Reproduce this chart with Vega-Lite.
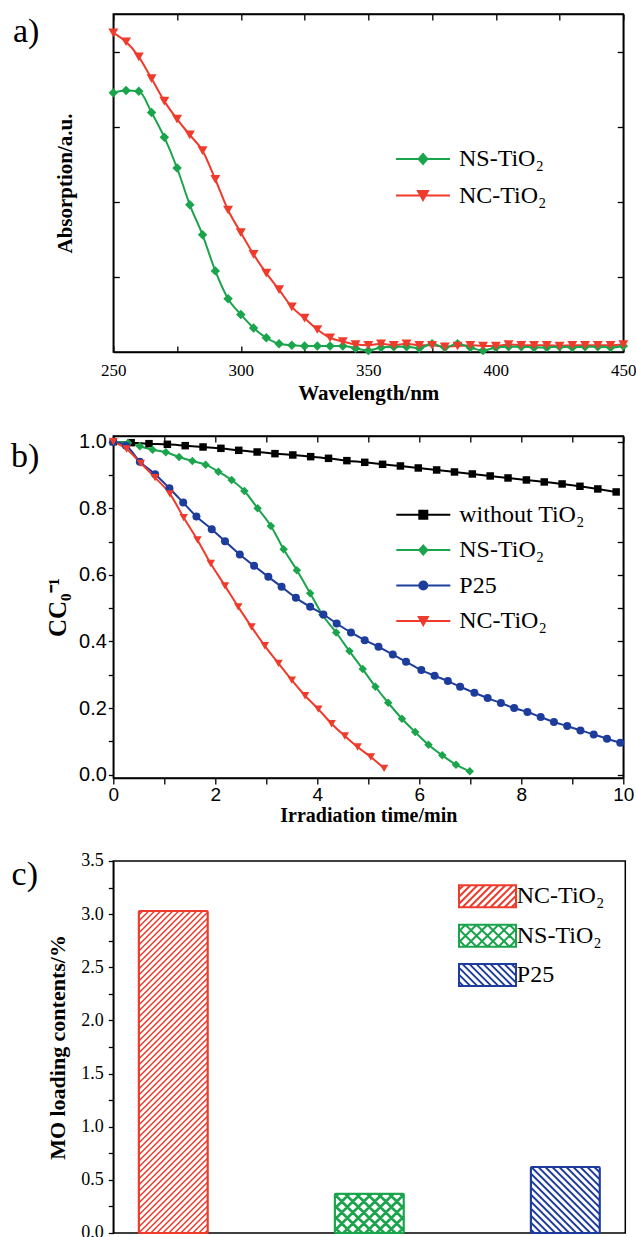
{
  "$schema": "https://vega.github.io/schema/vega-lite/v6.json",
  "padding": {"left": 9.3, "top": 12, "right": 0, "bottom": 0},
  "background": "white",
  "spacing": 25,
  "resolve": {"scale": {"color": "independent", "stroke": "independent", "shape": "independent", "x": "independent", "y": "independent"}, "legend": {"color": "independent", "stroke": "independent", "shape": "independent"}},
  "config": {
    "style": {"guide-label": {"font": "Liberation Serif"}, "guide-title": {"font": "Liberation Serif"}},
    "view": {"stroke": "#000000", "strokeWidth": 1.5},
    "axis": {"grid": false, "domainColor": "#000000", "domainWidth": 1.5, "tickColor": "#000000", "tickWidth": 1.3, "labelColor": "#000000", "titleColor": "#000000", "labelFont": "Liberation Serif", "titleFont": "Liberation Serif", "titleFontWeight": "bold", "labelFlush": false, "labelOverlap": false},
    "legend": {"labelFont": "Liberation Serif", "labelColor": "#000000", "labelFontSize": 24, "padding": 0, "symbolSize": 4, "symbolStrokeWidth": 2, "labelLimit": 300},
    "title": {"font": "Liberation Serif", "fontSize": 34, "fontWeight": "normal", "color": "#000000", "anchor": "start", "frame": "group", "offset": 0}
  },
  "datasets": {
    "abs": [
      {"wl":250,"a":4.25,"s":"NC-TiO₂"},{"wl":255,"a":4.13,"s":"NC-TiO₂"},{"wl":260,"a":3.93,"s":"NC-TiO₂"},{"wl":265,"a":3.64,"s":"NC-TiO₂"},{"wl":270,"a":3.34,"s":"NC-TiO₂"},{"wl":275,"a":3.10,"s":"NC-TiO₂"},{"wl":280,"a":2.89,"s":"NC-TiO₂"},{"wl":285,"a":2.68,"s":"NC-TiO₂"},{"wl":290,"a":2.30,"s":"NC-TiO₂"},{"wl":295,"a":1.89,"s":"NC-TiO₂"},{"wl":300,"a":1.59,"s":"NC-TiO₂"},{"wl":305,"a":1.30,"s":"NC-TiO₂"},{"wl":310,"a":1.05,"s":"NC-TiO₂"},{"wl":315,"a":0.83,"s":"NC-TiO₂"},{"wl":320,"a":0.60,"s":"NC-TiO₂"},{"wl":325,"a":0.45,"s":"NC-TiO₂"},{"wl":330,"a":0.30,"s":"NC-TiO₂"},{"wl":335,"a":0.19,"s":"NC-TiO₂"},{"wl":340,"a":0.14,"s":"NC-TiO₂"},{"wl":345,"a":0.10,"s":"NC-TiO₂"},{"wl":350,"a":0.09,"s":"NC-TiO₂"},{"wl":355,"a":0.11,"s":"NC-TiO₂"},{"wl":360,"a":0.09,"s":"NC-TiO₂"},{"wl":365,"a":0.11,"s":"NC-TiO₂"},{"wl":370,"a":0.09,"s":"NC-TiO₂"},{"wl":375,"a":0.09,"s":"NC-TiO₂"},{"wl":380,"a":0.07,"s":"NC-TiO₂"},{"wl":385,"a":0.08,"s":"NC-TiO₂"},{"wl":390,"a":0.09,"s":"NC-TiO₂"},{"wl":395,"a":0.08,"s":"NC-TiO₂"},{"wl":400,"a":0.08,"s":"NC-TiO₂"},{"wl":405,"a":0.10,"s":"NC-TiO₂"},{"wl":410,"a":0.09,"s":"NC-TiO₂"},{"wl":415,"a":0.09,"s":"NC-TiO₂"},{"wl":420,"a":0.09,"s":"NC-TiO₂"},{"wl":425,"a":0.08,"s":"NC-TiO₂"},{"wl":430,"a":0.09,"s":"NC-TiO₂"},{"wl":435,"a":0.09,"s":"NC-TiO₂"},{"wl":440,"a":0.09,"s":"NC-TiO₂"},{"wl":445,"a":0.09,"s":"NC-TiO₂"},{"wl":450,"a":0.10,"s":"NC-TiO₂"},
      {"wl":250,"a":3.45,"s":"NS-TiO₂"},{"wl":255,"a":3.48,"s":"NS-TiO₂"},{"wl":260,"a":3.47,"s":"NS-TiO₂"},{"wl":265,"a":3.19,"s":"NS-TiO₂"},{"wl":270,"a":2.86,"s":"NS-TiO₂"},{"wl":275,"a":2.45,"s":"NS-TiO₂"},{"wl":280,"a":1.96,"s":"NS-TiO₂"},{"wl":285,"a":1.56,"s":"NS-TiO₂"},{"wl":290,"a":1.08,"s":"NS-TiO₂"},{"wl":295,"a":0.71,"s":"NS-TiO₂"},{"wl":300,"a":0.50,"s":"NS-TiO₂"},{"wl":305,"a":0.32,"s":"NS-TiO₂"},{"wl":310,"a":0.19,"s":"NS-TiO₂"},{"wl":315,"a":0.11,"s":"NS-TiO₂"},{"wl":320,"a":0.09,"s":"NS-TiO₂"},{"wl":325,"a":0.08,"s":"NS-TiO₂"},{"wl":330,"a":0.08,"s":"NS-TiO₂"},{"wl":335,"a":0.08,"s":"NS-TiO₂"},{"wl":340,"a":0.08,"s":"NS-TiO₂"},{"wl":345,"a":0.05,"s":"NS-TiO₂"},{"wl":350,"a":0.02,"s":"NS-TiO₂"},{"wl":355,"a":0.06,"s":"NS-TiO₂"},{"wl":360,"a":0.07,"s":"NS-TiO₂"},{"wl":365,"a":0.07,"s":"NS-TiO₂"},{"wl":370,"a":0.05,"s":"NS-TiO₂"},{"wl":375,"a":0.11,"s":"NS-TiO₂"},{"wl":380,"a":0.06,"s":"NS-TiO₂"},{"wl":385,"a":0.11,"s":"NS-TiO₂"},{"wl":390,"a":0.06,"s":"NS-TiO₂"},{"wl":395,"a":0.02,"s":"NS-TiO₂"},{"wl":400,"a":0.06,"s":"NS-TiO₂"},{"wl":405,"a":0.07,"s":"NS-TiO₂"},{"wl":410,"a":0.07,"s":"NS-TiO₂"},{"wl":415,"a":0.06,"s":"NS-TiO₂"},{"wl":420,"a":0.06,"s":"NS-TiO₂"},{"wl":425,"a":0.07,"s":"NS-TiO₂"},{"wl":430,"a":0.06,"s":"NS-TiO₂"},{"wl":435,"a":0.07,"s":"NS-TiO₂"},{"wl":440,"a":0.07,"s":"NS-TiO₂"},{"wl":445,"a":0.06,"s":"NS-TiO₂"},{"wl":450,"a":0.08,"s":"NS-TiO₂"}
    ],
    "deg": [
      {"t":0,"c":1.0,"s":"without TiO₂"},{"t":0.35,"c":0.997,"s":"without TiO₂"},{"t":0.70,"c":0.994,"s":"without TiO₂"},{"t":1.06,"c":0.992,"s":"without TiO₂"},{"t":1.41,"c":0.988,"s":"without TiO₂"},{"t":1.76,"c":0.984,"s":"without TiO₂"},{"t":2.11,"c":0.980,"s":"without TiO₂"},{"t":2.46,"c":0.974,"s":"without TiO₂"},{"t":2.82,"c":0.969,"s":"without TiO₂"},{"t":3.17,"c":0.964,"s":"without TiO₂"},{"t":3.52,"c":0.960,"s":"without TiO₂"},{"t":3.87,"c":0.955,"s":"without TiO₂"},{"t":4.22,"c":0.950,"s":"without TiO₂"},{"t":4.58,"c":0.943,"s":"without TiO₂"},{"t":4.93,"c":0.938,"s":"without TiO₂"},{"t":5.28,"c":0.932,"s":"without TiO₂"},{"t":5.63,"c":0.927,"s":"without TiO₂"},{"t":5.98,"c":0.921,"s":"without TiO₂"},{"t":6.34,"c":0.915,"s":"without TiO₂"},{"t":6.69,"c":0.909,"s":"without TiO₂"},{"t":7.04,"c":0.903,"s":"without TiO₂"},{"t":7.39,"c":0.897,"s":"without TiO₂"},{"t":7.74,"c":0.891,"s":"without TiO₂"},{"t":8.10,"c":0.885,"s":"without TiO₂"},{"t":8.45,"c":0.879,"s":"without TiO₂"},{"t":8.80,"c":0.873,"s":"without TiO₂"},{"t":9.15,"c":0.866,"s":"without TiO₂"},{"t":9.50,"c":0.858,"s":"without TiO₂"},{"t":9.86,"c":0.849,"s":"without TiO₂"},
      {"t":0,"c":1.0,"s":"NS-TiO₂"},{"t":0.29,"c":0.996,"s":"NS-TiO₂"},{"t":0.52,"c":0.986,"s":"NS-TiO₂"},{"t":0.77,"c":0.976,"s":"NS-TiO₂"},{"t":1.03,"c":0.968,"s":"NS-TiO₂"},{"t":1.29,"c":0.954,"s":"NS-TiO₂"},{"t":1.55,"c":0.942,"s":"NS-TiO₂"},{"t":1.81,"c":0.931,"s":"NS-TiO₂"},{"t":2.06,"c":0.910,"s":"NS-TiO₂"},{"t":2.32,"c":0.885,"s":"NS-TiO₂"},{"t":2.57,"c":0.852,"s":"NS-TiO₂"},{"t":2.83,"c":0.800,"s":"NS-TiO₂"},{"t":3.09,"c":0.747,"s":"NS-TiO₂"},{"t":3.34,"c":0.677,"s":"NS-TiO₂"},{"t":3.60,"c":0.614,"s":"NS-TiO₂"},{"t":3.86,"c":0.545,"s":"NS-TiO₂"},{"t":4.10,"c":0.480,"s":"NS-TiO₂"},{"t":4.37,"c":0.427,"s":"NS-TiO₂"},{"t":4.63,"c":0.371,"s":"NS-TiO₂"},{"t":4.89,"c":0.317,"s":"NS-TiO₂"},{"t":5.14,"c":0.264,"s":"NS-TiO₂"},{"t":5.39,"c":0.216,"s":"NS-TiO₂"},{"t":5.66,"c":0.168,"s":"NS-TiO₂"},{"t":5.92,"c":0.128,"s":"NS-TiO₂"},{"t":6.18,"c":0.090,"s":"NS-TiO₂"},{"t":6.45,"c":0.058,"s":"NS-TiO₂"},{"t":6.72,"c":0.030,"s":"NS-TiO₂"},{"t":6.99,"c":0.010,"s":"NS-TiO₂"},
      {"t":0,"c":1.0,"s":"P25"},{"t":0.25,"c":0.988,"s":"P25"},{"t":0.52,"c":0.940,"s":"P25"},{"t":0.82,"c":0.902,"s":"P25"},{"t":1.10,"c":0.860,"s":"P25"},{"t":1.37,"c":0.817,"s":"P25"},{"t":1.63,"c":0.775,"s":"P25"},{"t":1.93,"c":0.737,"s":"P25"},{"t":2.19,"c":0.701,"s":"P25"},{"t":2.48,"c":0.661,"s":"P25"},{"t":2.76,"c":0.627,"s":"P25"},{"t":3.04,"c":0.594,"s":"P25"},{"t":3.30,"c":0.564,"s":"P25"},{"t":3.58,"c":0.531,"s":"P25"},{"t":3.86,"c":0.504,"s":"P25"},{"t":4.12,"c":0.481,"s":"P25"},{"t":4.38,"c":0.454,"s":"P25"},{"t":4.66,"c":0.427,"s":"P25"},{"t":4.93,"c":0.404,"s":"P25"},{"t":5.20,"c":0.384,"s":"P25"},{"t":5.48,"c":0.361,"s":"P25"},{"t":5.74,"c":0.339,"s":"P25"},{"t":6.04,"c":0.314,"s":"P25"},{"t":6.30,"c":0.297,"s":"P25"},{"t":6.56,"c":0.281,"s":"P25"},{"t":6.80,"c":0.264,"s":"P25"},{"t":7.08,"c":0.246,"s":"P25"},{"t":7.34,"c":0.230,"s":"P25"},{"t":7.60,"c":0.215,"s":"P25"},{"t":7.86,"c":0.200,"s":"P25"},{"t":8.12,"c":0.188,"s":"P25"},{"t":8.38,"c":0.173,"s":"P25"},{"t":8.64,"c":0.158,"s":"P25"},{"t":8.90,"c":0.146,"s":"P25"},{"t":9.16,"c":0.133,"s":"P25"},{"t":9.42,"c":0.121,"s":"P25"},{"t":9.68,"c":0.108,"s":"P25"},{"t":9.94,"c":0.096,"s":"P25"},
      {"t":0,"c":1.0,"s":"NC-TiO₂"},{"t":0.26,"c":0.978,"s":"NC-TiO₂"},{"t":0.54,"c":0.935,"s":"NC-TiO₂"},{"t":0.82,"c":0.892,"s":"NC-TiO₂"},{"t":1.11,"c":0.843,"s":"NC-TiO₂"},{"t":1.38,"c":0.772,"s":"NC-TiO₂"},{"t":1.65,"c":0.705,"s":"NC-TiO₂"},{"t":1.91,"c":0.634,"s":"NC-TiO₂"},{"t":2.19,"c":0.567,"s":"NC-TiO₂"},{"t":2.45,"c":0.504,"s":"NC-TiO₂"},{"t":2.71,"c":0.444,"s":"NC-TiO₂"},{"t":2.97,"c":0.387,"s":"NC-TiO₂"},{"t":3.24,"c":0.334,"s":"NC-TiO₂"},{"t":3.50,"c":0.284,"s":"NC-TiO₂"},{"t":3.76,"c":0.237,"s":"NC-TiO₂"},{"t":4.02,"c":0.197,"s":"NC-TiO₂"},{"t":4.28,"c":0.153,"s":"NC-TiO₂"},{"t":4.54,"c":0.116,"s":"NC-TiO₂"},{"t":4.79,"c":0.083,"s":"NC-TiO₂"},{"t":5.05,"c":0.053,"s":"NC-TiO₂"},{"t":5.31,"c":0.019,"s":"NC-TiO₂"}
    ],
    "load": [
      {"name":"NC-TiO₂","value":3.03},
      {"name":"NS-TiO₂","value":0.37},
      {"name":"P25","value":0.62}
    ]
  },
  "vconcat": [
    {
      "width": 510,
      "height": 338,
      "title": {"text": "a)", "dx": -100.3, "dy": 40},
      "data": {"name": "abs"},
      "layer": [
        {
          "mark": {"type": "line", "strokeWidth": 2, "interpolate": "monotone"},
          "encoding": {
            "x": {"field": "wl", "type": "quantitative", "title": "Wavelength/nm", "scale": {"domain": [250, 450], "nice": false, "zero": false},
                  "axis": {"orient": "bottom", "values": [250,275,300,325,350,375,400,425,450], "labelExpr": "datum.value % 50 === 0 ? datum.label : ''", "tickSize": -6, "labelPadding": 16, "labelFont": "Liberation Serif", "labelFontSize": 17, "titleFontSize": 21, "titlePadding": 4.5}},
            "y": {"field": "a", "type": "quantitative", "title": "Absorption/a.u.", "scale": {"domain": [0, 4.5], "nice": false},
                  "axis": {"orient": "left", "values": [1,2,3,4], "labels": false, "tickSize": -6, "titleFontSize": 21, "titlePadding": 38, "minExtent": 0, "maxExtent": 0}},
            "color": {"field": "s", "type": "nominal", "scale": {"domain": ["NS-TiO₂","NC-TiO₂"], "range": ["#1aa44c","#ef3b2c"]}}
          }
        },
        {
          "transform": [{"filter": "datum.s === 'NS-TiO₂'"}],
          "mark": {"type": "point", "shape": "diamond", "filled": true, "opacity": 1, "size": 90},
          "encoding": {
            "x": {"field": "wl", "type": "quantitative", "axis": {"orient": "top", "values": [250,275,300,325,350,375,400,425,450], "labels": false, "tickSize": -6, "title": null}},
            "y": {"field": "a", "type": "quantitative", "axis": {"orient": "right", "values": [1,2,3,4], "labels": false, "tickSize": -6, "title": null, "minExtent": 0}},
            "color": {"field": "s", "type": "nominal"}
          }
        },
        {
          "transform": [{"filter": "datum.s === 'NC-TiO₂'"}],
          "mark": {"type": "point", "shape": "triangle-down", "filled": true, "opacity": 1, "size": 100},
          "encoding": {
            "x": {"field": "wl", "type": "quantitative", "axis": null},
            "y": {"field": "a", "type": "quantitative", "axis": null},
            "color": {"field": "s", "type": "nominal"}
          }
        },
        {
          "transform": [{"filter": "false"}],
          "mark": {"type": "point", "filled": true, "opacity": 1, "size": 4, "strokeWidth": 2},
          "encoding": {
            "x": {"field": "wl", "type": "quantitative", "axis": null},
            "y": {"field": "a", "type": "quantitative", "axis": null},
            "color": {"field": "s", "type": "nominal", "legend": {"orient": "none", "legendX": 282.7, "legendY": 133, "title": null, "rowPadding": 12.5, "labelOffset": 39, "labelFont": "Liberation Serif"}},
            "stroke": {"field": "s", "type": "nominal", "scale": {"domain": ["NS-TiO₂","NC-TiO₂"], "range": ["#1aa44c","#ef3b2c"]}, "legend": {"orient": "none", "legendX": 282.7, "legendY": 133, "title": null, "rowPadding": 12.5, "labelOffset": 39, "labelFont": "Liberation Serif"}},
            "shape": {"field": "s", "type": "nominal", "scale": {"domain": ["NS-TiO₂","NC-TiO₂"], "range": ["M-12,0H42M15,-5L19.4,0L15,5L10.6,0Z", "M-12,0H42M10,-4.5H20L15,4.5Z"]}, "legend": {"orient": "none", "legendX": 282.7, "legendY": 133, "title": null, "rowPadding": 12.5, "labelOffset": 39, "labelFont": "Liberation Serif"}}
          }
        }
      ],
      "resolve": {"axis": {"x": "independent", "y": "independent"}}
    },
    {
      "bounds": "flush",
      "spacing": 83,
      "resolve": {"scale": {"color": "independent", "stroke": "independent", "shape": "independent", "x": "independent", "y": "independent"}, "legend": {"color": "independent", "stroke": "independent", "shape": "independent"}},
      "vconcat": [
        {
          "width": 510,
          "height": 342,
          "title": {"text": "b)", "dx": -102.3, "dy": 46.5},
          "data": {"name": "deg"},
          "layer": [
            {
              "mark": {"type": "line", "strokeWidth": 2, "interpolate": "monotone"},
              "encoding": {
                "x": {"field": "t", "type": "quantitative", "title": "Irradiation time/min", "scale": {"domain": [0, 10], "nice": false},
                      "axis": {"orient": "bottom", "values": [0,1,2,3,4,5,6,7,8,9,10], "labelExpr": "datum.value % 2 === 0 ? datum.label : ''", "tickSize": 6, "labelPadding": 2, "labelFont": "Liberation Sans", "labelFontSize": 19, "titleFontSize": 20, "titlePadding": 1}},
                "y": {"field": "c", "type": "quantitative", "title": "CC₀⁻¹", "scale": {"domain": [-0.01, 1.017], "nice": false, "zero": false},
                      "axis": {"orient": "left", "values": [0,0.1,0.2,0.3,0.4,0.5,0.6,0.7,0.8,0.9,1.0], "labelExpr": "round(datum.value*10) % 2 === 0 ? format(datum.value, '.1f') : ''", "tickSize": 5, "labelPadding": 2, "labelFont": "Liberation Sans", "labelFontSize": 20, "titleFontSize": 25, "titlePadding": 8}},
                "color": {"field": "s", "type": "nominal", "scale": {"domain": ["without TiO₂","NS-TiO₂","P25","NC-TiO₂"], "range": ["#000000","#1aa44c","#1d3c9b","#ef3b2c"]}}
              }
            },
            {
              "transform": [{"filter": "datum.s === 'without TiO₂'"}],
              "mark": {"type": "point", "shape": "square", "filled": true, "opacity": 1, "size": 56},
              "encoding": {
                "x": {"field": "t", "type": "quantitative", "axis": {"orient": "top", "values": [0,1,2,3,4,5,6,7,8,9,10], "labels": false, "tickSize": -6, "title": null}},
                "y": {"field": "c", "type": "quantitative", "axis": {"orient": "right", "values": [0,0.1,0.2,0.3,0.4,0.5,0.6,0.7,0.8,0.9,1.0], "labels": false, "tickSize": -6, "title": null, "minExtent": 0}},
                "color": {"field": "s", "type": "nominal"}
              }
            },
            {
              "transform": [{"filter": "datum.s === 'NS-TiO₂'"}],
              "mark": {"type": "point", "shape": "diamond", "filled": true, "opacity": 1, "size": 72},
              "encoding": {
                "x": {"field": "t", "type": "quantitative", "axis": null},
                "y": {"field": "c", "type": "quantitative", "axis": null},
                "color": {"field": "s", "type": "nominal"}
              }
            },
            {
              "transform": [{"filter": "datum.s === 'P25'"}],
              "mark": {"type": "point", "shape": "circle", "filled": true, "opacity": 1, "size": 64},
              "encoding": {
                "x": {"field": "t", "type": "quantitative", "axis": null},
                "y": {"field": "c", "type": "quantitative", "axis": null},
                "color": {"field": "s", "type": "nominal"}
              }
            },
            {
              "transform": [{"filter": "datum.s === 'NC-TiO₂'"}],
              "mark": {"type": "point", "shape": "triangle-down", "filled": true, "opacity": 1, "size": 72},
              "encoding": {
                "x": {"field": "t", "type": "quantitative", "axis": null},
                "y": {"field": "c", "type": "quantitative", "axis": null},
                "color": {"field": "s", "type": "nominal"}
              }
            },
            {
              "transform": [{"filter": "false"}],
              "mark": {"type": "point", "filled": true, "opacity": 1, "size": 4, "strokeWidth": 2},
              "encoding": {
                "x": {"field": "t", "type": "quantitative", "axis": null},
                "y": {"field": "c", "type": "quantitative", "axis": null},
                "color": {"field": "s", "type": "nominal", "legend": {"orient": "none", "legendX": 283, "legendY": 66.7, "title": null, "rowPadding": 11.4, "labelOffset": 39, "labelFont": "Liberation Serif"}},
                "stroke": {"field": "s", "type": "nominal", "scale": {"domain": ["without TiO₂","NS-TiO₂","P25","NC-TiO₂"], "range": ["#000000","#1aa44c","#1d3c9b","#ef3b2c"]}, "legend": {"orient": "none", "legendX": 283, "legendY": 66.7, "title": null, "rowPadding": 11.4, "labelOffset": 39, "labelFont": "Liberation Serif"}},
                "shape": {"field": "s", "type": "nominal", "scale": {"domain": ["without TiO₂","NS-TiO₂","P25","NC-TiO₂"], "range": ["M-12,0H42M11,-4H19V4H11Z", "M-12,0H42M15,-4.5L19,0L15,4.5L11,0Z", "M-12,0H42M19,0A4,4,0,1,1,11,0A4,4,0,1,1,19,0Z", "M-12,0H42M10.5,-4H19.5L15,4Z"]}, "legend": {"orient": "none", "legendX": 283, "legendY": 66.7, "title": null, "rowPadding": 11.4, "labelOffset": 39, "labelFont": "Liberation Serif"}}
              }
            }
          ],
          "resolve": {"axis": {"x": "independent", "y": "independent"}}
        },
        {
          "width": 512,
          "height": 372,
          "title": {"text": "c)", "dx": -101.7, "dy": 44},
          "data": {"name": "load"},
          "layer": [
            {
              "mark": {"type": "bar", "fill": "#ffffff", "strokeWidth": 2, "cornerRadius": 1},
              "encoding": {
                "x": {"field": "name", "type": "nominal", "scale": {"type": "band", "paddingInner": 0.648, "paddingOuter": 0.13}, "axis": null},
                "y": {"field": "value", "type": "quantitative", "title": "MO loading contents/%", "scale": {"domain": [0, 3.5], "nice": false},
                      "axis": {"values": [0,0.25,0.5,0.75,1,1.25,1.5,1.75,2,2.25,2.5,2.75,3,3.25,3.5], "labelExpr": "datum.value % 0.5 === 0 ? format(datum.value, '.1f') : ''", "tickSize": 5, "labelPadding": 5, "labelFont": "Liberation Serif", "labelFontSize": 18, "titleFontSize": 22, "titlePadding": 11}},
                "stroke": {"field": "name", "type": "nominal", "scale": {"domain": ["NC-TiO₂","NS-TiO₂","P25"], "range": ["#ef3b2c","#1aa44c","#1d3c9b"]}}
              }
            },
            {
              "transform": [{"filter": "datum.name === 'NC-TiO₂'"}],
              "mark": {"type": "point", "filled": false, "opacity": 1, "size": 4, "stroke": "#ef3b2c", "strokeWidth": 1.5,
                       "shape": "M31.5,0l3,-3M25.5,0l9,-9M19.5,0l15,-15M13.5,0l21,-21M7.5,0l27,-27M1.5,0l33,-33M-4.5,0l39,-39M-10.5,0l45,-45M-16.5,0l51,-51M-22.5,0l57,-57M-28.5,0l63,-63M-34.5,0l69,-69m-69,63l69,-69m-69,63l69,-69m-69,63l69,-69m-69,63l69,-69m-69,63l69,-69m-69,63l69,-69m-69,63l69,-69m-69,63l69,-69m-69,63l69,-69m-69,63l69,-69m-69,63l69,-69m-69,63l69,-69m-69,63l69,-69m-69,63l69,-69m-69,63l69,-69m-69,63l69,-69m-69,63l69,-69m-69,63l69,-69m-69,63l69,-69m-69,63l69,-69m-69,63l69,-69m-69,63l69,-69m-69,63l69,-69m-69,63l69,-69m-69,63l69,-69m-69,63l69,-69m-69,63l69,-69m-69,63l69,-69m-69,63l69,-69m-69,63l69,-69m-69,63l69,-69m-69,63l69,-69m-69,63l69,-69m-69,63l69,-69m-69,63l69,-69m-69,63l69,-69m-69,63l69,-69m-69,63l69,-69m-69,63l69,-69m-69,63l69,-69m-69,63l69,-69m-69,63l69,-69M-34.5,-258l64,-64M-34.5,-264l58,-58M-34.5,-270l52,-52M-34.5,-276l46,-46M-34.5,-282l40,-40M-34.5,-288l34,-34M-34.5,-294l28,-28M-34.5,-300l22,-22M-34.5,-306l16,-16M-34.5,-312l10,-10M-34.5,-318l4,-4"},
              "encoding": {
                "x": {"field": "name", "type": "nominal", "axis": null},
                "y": {"datum": 0, "type": "quantitative", "axis": null}
              }
            },
            {
              "transform": [{"filter": "datum.name === 'NS-TiO₂'"}],
              "mark": {"type": "point", "filled": false, "opacity": 1, "size": 4, "stroke": "#1aa44c", "strokeWidth": 2.6,
                       "shape": "M29,0l5.5,-5.5M18,0l16.5,-16.5M7,0l27.5,-27.5M-4,0l38.5,-38.5M-15,0l39,-39M-26,0l39,-39M-34.5,-2.5l36.5,-36.5M-34.5,-13.5l25.5,-25.5M-34.5,-24.5l14.5,-14.5M-34.5,-35.5l3.5,-3.5M-29,0l-5.5,-5.5M-18,0l-16.5,-16.5M-7,0l-27.5,-27.5M4,0l-38.5,-38.5M15,0l-39,-39M26,0l-39,-39M34.5,-2.5l-36.5,-36.5M34.5,-13.5l-25.5,-25.5M34.5,-24.5l-14.5,-14.5M34.5,-35.5l-3.5,-3.5"},
              "encoding": {
                "x": {"field": "name", "type": "nominal", "axis": null},
                "y": {"datum": 0, "type": "quantitative", "axis": null}
              }
            },
            {
              "transform": [{"filter": "datum.name === 'P25'"}],
              "mark": {"type": "point", "filled": false, "opacity": 1, "size": 4, "stroke": "#1d3c9b", "strokeWidth": 1.8,
                       "shape": "M-34.5,-3.5l3.5,3.5M-34.5,-10.5l10.5,10.5M-34.5,-17.5l17.5,17.5M-34.5,-24.5l24.5,24.5M-34.5,-31.5l31.5,31.5M-34.5,-38.5l38.5,38.5M-34.5,-45.5l45.5,45.5M-34.5,-52.5l52.5,52.5M-34.5,-59.5l59.5,59.5M-34,-66l66,66M-27,-66l61.5,61.5M-20,-66l54.5,54.5M-13,-66l47.5,47.5M-6,-66l40.5,40.5M1,-66l33.5,33.5M8,-66l26.5,26.5M15,-66l19.5,19.5M22,-66l12.5,12.5M29,-66l5.5,5.5"},
              "encoding": {
                "x": {"field": "name", "type": "nominal", "axis": null},
                "y": {"datum": 0, "type": "quantitative", "axis": null}
              }
            },
            {
              "transform": [{"filter": "false"}],
              "mark": {"type": "point", "filled": true, "fill": "#ffffff", "opacity": 1, "size": 4, "strokeWidth": 1.8},
              "encoding": {
                "x": {"field": "name", "type": "nominal", "axis": null},
                "y": {"datum": 0, "type": "quantitative", "axis": null},
                "stroke": {"field": "name", "type": "nominal", "legend": {"orient": "none", "legendX": 345.7, "legendY": 23.3, "title": null, "rowPadding": 9.4, "labelOffset": 17.3, "symbolOffset": 16.5, "labelFont": "Liberation Serif"}},
                "shape": {"field": "name", "type": "nominal", "scale": {"domain": ["NC-TiO₂","NS-TiO₂","P25"], "range": [
                  "M-28.5,-11H28.5V11H-28.5ZM24,11l4.5,-4.5M17,11l11.5,-11.5M10,11l18.5,-18.5M3,11l22,-22M-4,11l22,-22M-11,11l22,-22M-18,11l22,-22M-25,11l22,-22M-28.5,7.5l18.5,-18.5M-28.5,0.5l11.5,-11.5M-28.5,-6.5l4.5,-4.5",
                  "M-28.5,-11H28.5V11H-28.5ZM22,11l6.5,-6.5M11,11l17.5,-17.5M0,11l22,-22M-11,11l22,-22M-22,11l22,-22M-28.5,6.5l17.5,-17.5M-28.5,-4.5l6.5,-6.5M-22,11l-6.5,-6.5M-11,11l-17.5,-17.5M0,11l-22,-22M11,11l-22,-22M22,11l-22,-22M28.5,6.5l-17.5,-17.5M28.5,-4.5l-6.5,-6.5",
                  "M-28.5,-11H28.5V11H-28.5ZM-24,11l-4.5,-4.5M-17,11l-11.5,-11.5M-10,11l-18.5,-18.5M-3,11l-22,-22M4,11l-22,-22M11,11l-22,-22M18,11l-22,-22M25,11l-22,-22M28.5,7.5l-18.5,-18.5M28.5,0.5l-11.5,-11.5M28.5,-6.5l-4.5,-4.5"]},
                  "legend": {"orient": "none", "legendX": 345.7, "legendY": 23.3, "title": null, "rowPadding": 9.4, "labelOffset": 17.3, "symbolOffset": 16.5, "labelFont": "Liberation Serif"}}
              }
            }
          ],
          "resolve": {"axis": {"x": "independent", "y": "independent"}}
        }
      ]
    }
  ]
}
